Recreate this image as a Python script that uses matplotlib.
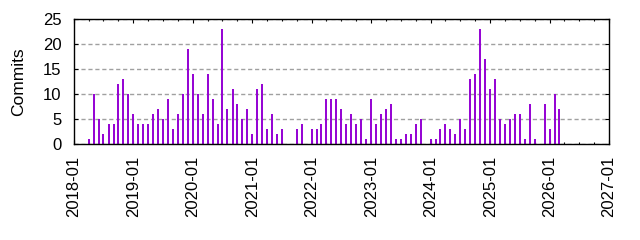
import datetime as dt
import matplotlib
matplotlib.use("Agg")
import matplotlib.pyplot as plt
import matplotlib.dates as mdates

plt.rcParams['font.family'] = ['Liberation Sans', 'DejaVu Sans']

# monthly commit counts, starting 2018-01
start_year = 2018
commits = [
    0, 0, 0, 1, 10, 5, 2, 4, 4, 12, 13, 10,      # 2018
    6, 4, 4, 4, 6, 7, 5, 9, 3, 6, 10, 19,        # 2019
    14, 10, 6, 14, 9, 4, 23, 7, 11, 8, 5, 7,     # 2020
    2, 11, 12, 3, 6, 2, 3, 0, 0, 3, 4, 0,        # 2021
    3, 3, 4, 9, 9, 9, 7, 4, 6, 4, 5, 1,          # 2022
    9, 4, 6, 7, 8, 1, 1, 2, 2, 4, 5, 0,          # 2023
    1, 1, 3, 4, 3, 2, 5, 3, 13, 14, 23, 17,      # 2024
    11, 13, 5, 4, 5, 6, 6, 1, 8, 1, 0, 8,        # 2025
    3, 10, 7,                                    # 2026
]
months = [dt.date(start_year + i // 12, i % 12 + 1, 1) for i in range(len(commits))]

fig = plt.figure(figsize=(6.4, 2.4), dpi=100)
ax = fig.add_axes([74 / 640, 1 - 144.3 / 240, 535 / 640, 125 / 240])

ax.vlines(months, 0, commits, color='#9400D3', linewidth=1.4)

ax.set_xlim(dt.date(2018, 1, 1), dt.date(2027, 1, 1))
ax.set_ylim(0, 25)
ax.set_yticks(range(0, 26, 5))

ax.xaxis.set_major_locator(mdates.YearLocator())
ax.xaxis.set_minor_locator(mdates.MonthLocator(bymonth=[4, 7, 10]))
ax.xaxis.set_major_formatter(mdates.DateFormatter('%Y-%m'))
plt.setp(ax.get_xticklabels(), rotation=90)

ax.tick_params(axis='both', which='major', direction='in', length=3, width=0.8,
               top=True, right=True, labelsize=12, pad=8)
ax.tick_params(axis='both', which='minor', direction='in', length=1.6, width=0.8,
               top=True, right=True)
ax.tick_params(axis='y', pad=9)

ax.grid(axis='y', color='#a0a0a0', linestyle=(0, (3, 2)), linewidth=1.0)
for s in ax.spines.values():
    s.set_linewidth(1.0)

ax.set_ylabel('Commits', fontsize=12.5, labelpad=12)

fig.savefig('out.png', dpi=100)
